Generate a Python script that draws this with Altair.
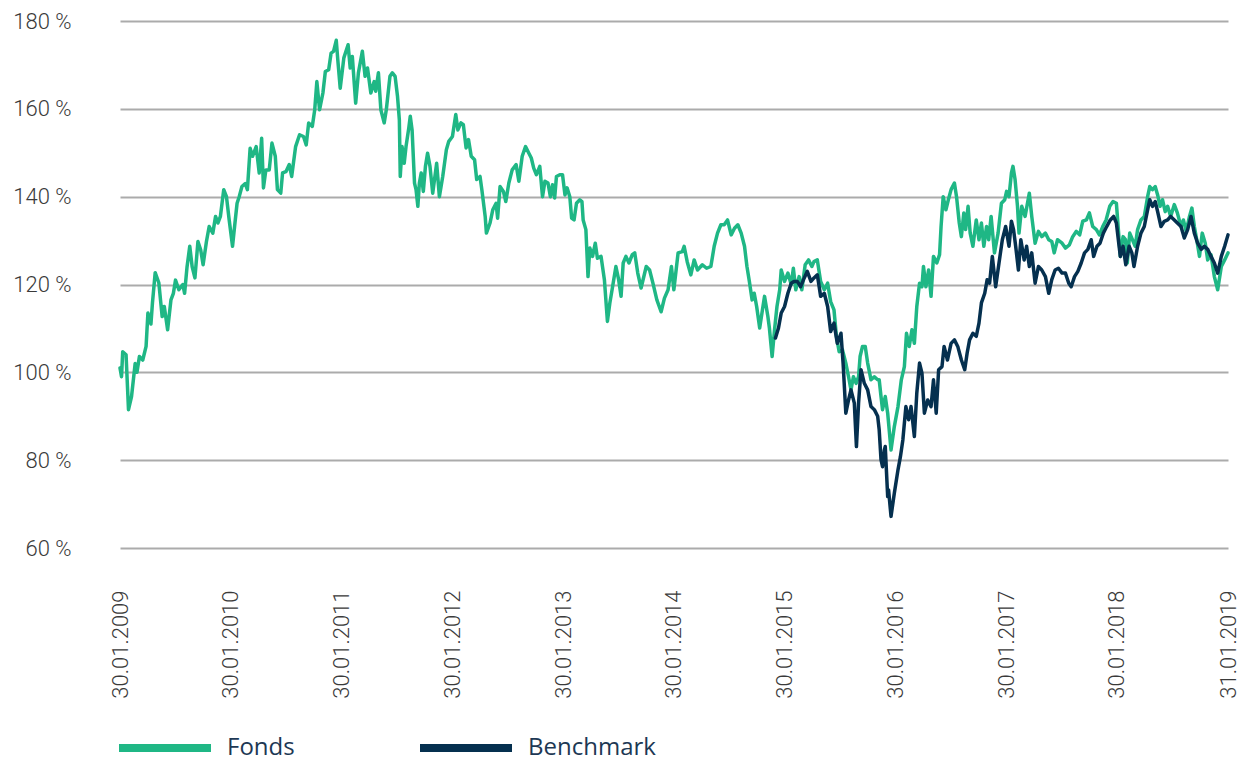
import altair as alt
import pandas as pd

fund_dates = [
"2009-01-30","2009-02-04","2009-02-08","2009-02-19","2009-02-27","2009-03-09","2009-03-21","2009-03-27","2009-04-04","2009-04-15",
"2009-04-26","2009-05-02","2009-05-12","2009-05-17","2009-05-26","2009-06-07","2009-06-18","2009-06-25","2009-07-06","2009-07-17",
"2009-07-25","2009-08-01","2009-08-12","2009-08-25","2009-08-31","2009-09-08","2009-09-17","2009-09-25","2009-10-04","2009-10-14",
"2009-10-23","2009-10-31","2009-11-11","2009-11-20","2009-12-02","2009-12-11","2009-12-19","2009-12-27","2010-01-07","2010-01-16",
"2010-01-25","2010-02-05","2010-02-13","2010-02-20","2010-02-27","2010-03-08","2010-03-19","2010-03-26","2010-04-04","2010-04-12",
"2010-04-24","2010-05-04","2010-05-12","2010-05-18","2010-05-26","2010-06-06","2010-06-15","2010-06-26","2010-07-03","2010-07-14",
"2010-07-20","2010-07-31","2010-08-11","2010-08-19","2010-09-01","2010-09-14","2010-09-27","2010-10-06","2010-10-14","2010-10-26",
"2010-11-03","2010-11-10","2010-11-19","2010-11-30","2010-12-08","2010-12-19","2010-12-27","2011-01-04","2011-01-13","2011-01-18",
"2011-01-26","2011-02-07","2011-02-21","2011-02-28","2011-03-07","2011-03-18","2011-03-27","2011-04-09","2011-04-18","2011-04-26",
"2011-05-07","2011-05-18","2011-05-23","2011-06-01","2011-06-09","2011-06-20","2011-06-27","2011-07-09","2011-07-17","2011-07-26",
"2011-08-03","2011-08-09","2011-08-12","2011-08-18","2011-08-25","2011-08-31","2011-09-09","2011-09-14","2011-09-20","2011-09-28",
"2011-10-03","2011-10-09","2011-10-14","2011-10-20","2011-10-27","2011-11-03","2011-11-10","2011-11-18","2011-11-27","2011-12-10",
"2011-12-19","2011-12-30","2012-01-11","2012-01-19","2012-01-31","2012-02-11","2012-02-18","2012-02-28","2012-03-07","2012-03-16",
"2012-03-24","2012-04-02","2012-04-13","2012-04-20","2012-05-01","2012-05-07","2012-05-18","2012-05-22","2012-06-03","2012-06-12",
"2012-06-23","2012-06-28","2012-07-06","2012-07-17","2012-07-25","2012-08-04","2012-08-15","2012-08-28","2012-09-06","2012-09-17",
"2012-09-28","2012-10-09","2012-10-17","2012-10-25","2012-11-03","2012-11-14","2012-11-23","2012-12-01","2012-12-11","2012-12-19",
"2012-12-26","2013-01-02","2013-01-08","2013-01-19","2013-01-28","2013-02-05","2013-02-12","2013-02-21","2013-02-27","2013-03-07",
"2013-03-15","2013-03-26","2013-04-02","2013-04-06","2013-04-15","2013-04-22","2013-04-28","2013-05-07","2013-05-16","2013-05-23",
"2013-06-04","2013-06-15","2013-06-25","2013-07-03","2013-07-12","2013-07-23","2013-08-01","2013-08-09","2013-08-16","2013-08-25",
"2013-09-04","2013-09-15","2013-09-23","2013-10-03","2013-10-14","2013-10-31","2013-11-11","2013-11-22","2013-12-05","2013-12-19",
"2013-12-30","2014-01-11","2014-01-22","2014-01-30","2014-02-13","2014-02-27","2014-03-05","2014-03-15","2014-03-27","2014-04-07",
"2014-04-18","2014-05-04","2014-05-18","2014-06-01","2014-06-12","2014-06-23","2014-07-04","2014-07-15","2014-07-26","2014-08-07",
"2014-08-18","2014-08-29","2014-09-09","2014-09-20","2014-09-28","2014-10-06","2014-10-15","2014-10-22","2014-10-30","2014-11-09",
"2014-11-18","2014-11-25","2014-12-06","2014-12-11","2014-12-20","2014-12-28","2015-01-05","2015-01-14","2015-01-19","2015-01-30",
"2015-02-10","2015-02-21","2015-02-28","2015-03-08","2015-03-19","2015-03-28","2015-04-08","2015-04-19","2015-04-30","2015-05-07",
"2015-05-18","2015-05-29","2015-06-10","2015-06-21","2015-07-01","2015-07-12","2015-07-20","2015-07-29","2015-08-09","2015-08-20",
"2015-08-29","2015-09-06","2015-09-14","2015-09-23","2015-10-01","2015-10-06","2015-10-14","2015-10-23","2015-10-31","2015-11-11",
"2015-11-22","2015-12-03","2015-12-08","2015-12-14","2015-12-19","2015-12-28","2016-01-05","2016-01-16","2016-01-27","2016-02-08",
"2016-02-19","2016-02-29","2016-03-07","2016-03-16","2016-03-25","2016-04-02","2016-04-10","2016-04-19","2016-04-27","2016-05-02",
"2016-05-10","2016-05-19","2016-05-27","2016-06-04","2016-06-15","2016-06-24","2016-06-29","2016-07-06","2016-07-15","2016-07-23",
"2016-08-01","2016-08-12","2016-08-19","2016-08-28","2016-09-04","2016-09-12","2016-09-18","2016-09-26","2016-10-03","2016-10-12",
"2016-10-23","2016-11-01","2016-11-09","2016-11-17","2016-11-26","2016-12-03","2016-12-11","2016-12-22","2017-01-03","2017-01-14",
"2017-01-25","2017-01-31","2017-02-08","2017-02-16","2017-02-21","2017-02-28","2017-03-08","2017-03-13","2017-03-22","2017-04-02",
"2017-04-16","2017-04-24","2017-05-05","2017-05-16","2017-05-27","2017-06-08","2017-06-19","2017-06-29","2017-07-07","2017-07-18",
"2017-08-02","2017-08-13","2017-08-26","2017-09-06","2017-09-18","2017-09-29","2017-10-09","2017-10-21","2017-10-31","2017-11-11",
"2017-11-23","2017-12-03","2017-12-14","2017-12-25","2018-01-06","2018-01-17","2018-01-28","2018-02-02","2018-02-10","2018-02-19",
"2018-02-27","2018-03-05","2018-03-13","2018-03-22","2018-03-31","2018-04-08","2018-04-19","2018-04-30","2018-05-11","2018-05-18",
"2018-05-27","2018-06-05","2018-06-13","2018-06-21","2018-06-29","2018-07-08","2018-07-16","2018-07-26","2018-08-07","2018-08-17",
"2018-08-29","2018-09-06","2018-09-15","2018-09-26","2018-10-04","2018-10-12","2018-10-20","2018-10-29","2018-11-07","2018-11-17",
"2018-11-25","2018-12-06","2018-12-17","2018-12-28","2019-01-09","2019-01-20","2019-01-31"]

fund_values = [
101,99,104.7,104,91.5,94.5,102,100,103.6,102.8,
105.9,113.5,111,115.8,122.7,120.4,112.7,115,109.7,116.5,
118,121,118.8,120,118,124,128.7,124,121.5,129.8,
127.9,124.5,129.8,133.2,131.7,135.5,134,135.5,141.6,140,
134.7,128.7,134,138.5,140,142.3,143,141.6,151,149.2,
151.4,145.4,153.3,142,146.1,146.1,152.2,149.2,141.6,140.8,
145.4,145.7,147.3,144.6,151.4,154.1,153.7,151.8,156.8,156,
159.8,166.2,159.8,163.6,168.5,168.9,172.7,173.1,175.6,171.2,
164.7,171.6,174.6,169.3,171.9,161.3,168.2,173.1,167.4,169.3,
163.6,166.2,164,168.2,159.8,156.8,159.8,167.4,168.2,167.4,
162.8,157.5,144.6,151.4,147.6,151.4,155.6,158.3,155.2,143.1,
141.6,137.8,143.1,145.4,141.2,146.9,149.9,146.9,140.8,147.6,
140,144.6,150.7,152.6,153.7,158.7,155.2,156.8,156.4,151.1,
153,149.2,148.4,143.9,144.6,141.6,135.5,131.7,134,137,
138.5,135.1,142.3,141.2,138.9,143.1,146.1,147.3,143.5,149.2,
151.4,149.9,148.8,146.5,145,146.9,140,143.5,143.1,140,
142.7,139.7,144.6,145,145,140.4,142,140,135.1,134.7,
138.5,139.3,138.9,134.7,132.5,121.8,128.3,126.4,129.4,126,
126.4,121.1,111.6,115.8,119.5,124.1,121.1,117.3,124.9,126.4,
124.9,126.8,127.2,122.6,119.2,124.1,123.3,120.3,116.5,113.8,
116.9,118.8,124.1,118.8,127.2,127.5,128.7,125.2,122.2,125.6,
123.3,124.5,123.7,124.1,128.7,131.7,133.6,133.6,134.7,131.3,
132.8,133.6,131.7,128.7,124.1,120.7,116.5,118,115,110.1,
114.2,117.3,112.7,110.1,103.6,109.7,115,118.8,123.3,120.7,
122.6,120,123.7,118.8,121.8,118.8,124.5,125.6,124.1,125.2,
125.6,120.7,118.8,120.3,116.1,114.2,108.2,104.7,105.1,102.1,
99,96,99,97.5,99,103.6,105.9,105.9,102.1,98.3,
99,98.3,98.3,94.5,91.5,94.5,90.7,82.3,87.7,92.2,
98.3,101.3,108.9,105.9,109.7,106.6,115,120.3,119.5,124.1,
119.5,123.3,117.3,126.4,124.9,126.8,133.2,140,137,139.3,
141.6,143.1,140,134,130.9,136.3,132.5,137.8,131.7,128.7,
134.7,130.2,134,128.7,133.2,130.2,135.5,127.2,131.7,138.5,
139.3,141.2,140,145.4,146.9,143.9,137.8,131.7,137.8,135.5,
140.8,135.5,129.4,132.1,130.9,131.7,130.2,129.8,127.2,130.2,
129.4,128.3,129,130.9,132.1,131.3,134.4,134.7,136.3,133.2,
132.5,131.3,133.2,134.7,137.8,138.9,138.5,134,126.4,130.9,
130.2,124.9,131.7,130.2,128.7,132.5,134.7,135.5,140,142.3,
141.6,142.3,140.4,137.8,139.3,136.6,137.8,135.5,138.2,136.3,
133.2,134.7,132.1,135.5,137.4,133.2,130.2,126.4,131.7,129.4,
125.6,126.8,121.8,118.8,124.1,125.6,127.2]

bench_dates = [
"2014-12-31","2015-01-10","2015-01-19","2015-01-30","2015-02-10","2015-02-21","2015-03-02","2015-03-13","2015-03-24","2015-04-05",
"2015-04-15","2015-04-27","2015-05-07","2015-05-18","2015-05-29","2015-06-10","2015-06-21","2015-07-01","2015-07-12","2015-07-23",
"2015-08-04","2015-08-11","2015-08-20","2015-08-29","2015-09-06","2015-09-17","2015-09-24","2015-10-01","2015-10-09","2015-10-20",
"2015-10-31","2015-11-11","2015-11-22","2015-12-03","2015-12-08","2015-12-14","2015-12-19","2015-12-25","2015-12-28","2016-01-05",
"2016-01-08","2016-01-16","2016-01-27","2016-02-08","2016-02-16","2016-02-24","2016-03-05","2016-03-14","2016-03-22","2016-04-02",
"2016-04-10","2016-04-19","2016-04-27","2016-05-05","2016-05-16","2016-05-27","2016-06-04","2016-06-13","2016-06-21","2016-07-02",
"2016-07-09","2016-07-20","2016-08-01","2016-08-12","2016-08-23","2016-09-04","2016-09-15","2016-09-23","2016-10-01","2016-10-12",
"2016-10-23","2016-11-01","2016-11-09","2016-11-20","2016-11-28","2016-12-06","2016-12-15","2016-12-26","2017-01-06","2017-01-17",
"2017-01-28","2017-02-08","2017-02-16","2017-02-23","2017-03-02","2017-03-11","2017-03-19","2017-03-30","2017-04-07","2017-04-16",
"2017-04-24","2017-05-05","2017-05-16","2017-05-27","2017-06-08","2017-06-19","2017-06-29","2017-07-10","2017-07-21","2017-08-02",
"2017-08-13","2017-08-24","2017-09-01","2017-09-12","2017-09-23","2017-10-04","2017-10-15","2017-10-26","2017-11-06","2017-11-14",
"2017-11-25","2017-12-05","2017-12-16","2017-12-27","2018-01-08","2018-01-19","2018-01-28","2018-02-06","2018-02-10","2018-02-19",
"2018-02-28","2018-03-11","2018-03-20","2018-03-27","2018-04-08","2018-04-19","2018-04-30","2018-05-11","2018-05-18","2018-05-27",
"2018-06-05","2018-06-13","2018-06-24","2018-07-05","2018-07-16","2018-07-26","2018-08-07","2018-08-17","2018-08-29","2018-09-09",
"2018-09-20","2018-10-01","2018-10-12","2018-10-23","2018-11-04","2018-11-14","2018-11-25","2018-12-06","2018-12-17","2018-12-28",
"2019-01-09","2019-01-20","2019-01-31"]

bench_values = [
107.8,110.1,113.5,115,118,120.3,120.7,120.7,119.5,121.5,
123,120.7,121.5,122.2,117.3,118,115,109.3,111.2,106.6,
108.9,102.1,90.7,93.7,96,93,83.1,93,100.6,97.5,
96,92.2,91.5,90,86.9,80.1,78.5,82.3,83.1,71.7,
73.2,67.2,72.5,77.8,80.8,84.6,92.2,89.2,92.2,85.4,
95.3,102.1,99.8,90.7,93.7,92.2,98.3,90.7,100.6,101.3,
105.9,102.8,106.6,107.4,105.9,102.8,100.6,104.4,107.4,108.9,
108.2,111.2,115.8,118,121.1,120.3,126.4,119.5,124.9,130.2,
133.2,128.7,134.4,132.5,128.7,123.3,130.2,125.6,128.7,124.1,
127.2,120.3,124.1,123.3,121.8,118,121.1,123.3,123.7,122.6,
122.6,120.3,119.5,121.8,123,124.9,127.2,128,130.2,126.4,
128.7,129.4,131.7,133.2,134.7,135.5,134,128.7,126.4,128.7,
124.5,128.7,127.2,124.1,128.7,131.7,133.2,137,139.3,137.8,
138.9,136.6,133.2,134.4,134.7,135.5,134.7,134,133.2,130.6,
132.5,135.5,131.7,129.4,128,128.7,128,126.4,124.9,122.6,
126.4,128.7,131.3]

series_names = ["Fonds", "Benchmark"]
series_colors = ["#1fb785", "#05304f"]
tick_dates = [(2009, 1, 30), (2010, 1, 30), (2011, 1, 30), (2012, 1, 30), (2013, 1, 30),
              (2014, 1, 30), (2015, 1, 30), (2016, 1, 30), (2017, 1, 30), (2018, 1, 30), (2019, 1, 31)]
y_ticks = [60, 80, 100, 120, 140, 160, 180]

df = pd.concat([
    pd.DataFrame({"date": fund_dates, "value": fund_values, "series": series_names[0]}),
    pd.DataFrame({"date": bench_dates, "value": bench_values, "series": series_names[1]}),
], ignore_index=True)

def dt(t):
    return alt.DateTime(year=t[0], month=t[1], date=t[2], utc=True)

x_enc = alt.X("date:T", title=None,
              scale=alt.Scale(type="utc", domain=[dt(tick_dates[0]), dt(tick_dates[-1])], nice=False),
              axis=alt.Axis(values=[dt(t) for t in tick_dates], format="%d.%m.%Y", labelAngle=270,
                            grid=False, domain=False, ticks=False, labelPadding=42,
                            labelFont="Roboto", labelFontWeight=300, labelFontSize=22,
                            labelColor="#3a3a3a", labelOverlap=False, labelFlush=False))
y_enc = alt.Y("value:Q", title=None,
              scale=alt.Scale(domain=[60, 180], nice=False, zero=False),
              axis=alt.Axis(values=y_ticks, labelExpr="datum.value + ' %'", grid=True,
                            gridColor="#ababab", gridWidth=2, domain=False, ticks=False,
                            labelPadding=49, labelFont="Roboto", labelFontWeight=300,
                            labelFontSize=22, labelColor="#3a3a3a"))
color_enc = alt.Color("series:N", title=None,
                      scale=alt.Scale(domain=series_names, range=series_colors),
                      legend=alt.Legend(orient="none", direction="horizontal", columns=2,
                                        legendX=-5, legendY=677,
                                        symbolType="stroke", symbolSize=8464, symbolStrokeWidth=8,
                                        labelFont="Open Sans", labelFontSize=24, labelColor="#1d3854",
                                        labelOffset=12, columnPadding=109))

base = alt.Chart(df).mark_line(strokeWidth=3.5, strokeCap="round", strokeJoin="round").encode(
    x=x_enc, y=y_enc, color=color_enc, order=alt.Order("date:T"))

fund_layer = base.transform_filter(alt.datum.series == series_names[0])
bench_layer = base.transform_filter(alt.datum.series == series_names[1])

chart = alt.layer(fund_layer, bench_layer).properties(
    width=1108, height=527,
    autosize=alt.AutoSizeParams(type="none"),
    padding={"left": 112, "top": 13, "right": 16, "bottom": 216},
).configure_view(stroke=None)

chart.save("out.html", embed_options={"renderer": "svg", "actions": False})
